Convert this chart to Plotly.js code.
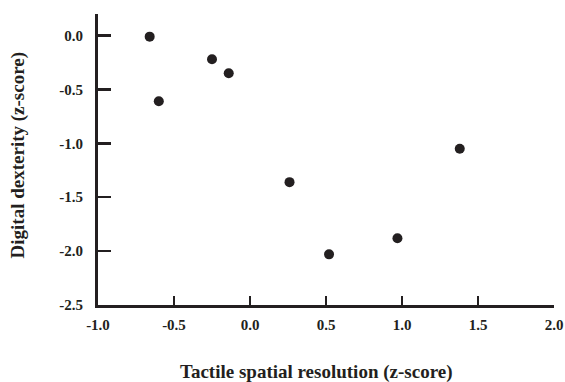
<!DOCTYPE html>
<html>
<head>
<meta charset="utf-8">
<script src="https://cdn.plot.ly/plotly-3.0.1.min.js"></script>
<style>html,body{margin:0;padding:0;background:#fff}#chart{width:565px;height:382px}</style>
</head>
<body>
<div id="chart"></div>
<script>
const tactile = [-0.66, -0.25, -0.14, -0.60, 0.26, 0.52, 0.97, 1.38];
const dexterity = [-0.01, -0.22, -0.35, -0.61, -1.36, -2.03, -1.88, -1.05];
const xTickVals = [-1.0, -0.5, 0.0, 0.5, 1.0, 1.5, 2.0];
const xTickText = ["-1.0", "-0.5", "0.0", "0.5", "1.0", "1.5", "2.0"];
const yTickVals = [0.0, -0.5, -1.0, -1.5, -2.0, -2.5];
const yTickText = ["0.0", "-0.5", "-1.0", "-1.5", "-2.0", "-2.5"];
const xTitle = "Tactile spatial resolution (z-score)";
const yTitle = "Digital dexterity (z-score)";

const font = {family: "Liberation Serif, Times New Roman, serif", color: "#231f20"};
const titleFont = {family: font.family, size: 19, color: font.color, weight: "bold"};

const trace = {
  x: tactile, y: dexterity, type: "scatter", mode: "markers",
  marker: {color: "#231f20", size: 10}, cliponaxis: false, hoverinfo: "skip"
};

const layout = {
  width: 565, height: 382,
  margin: {l: 98, r: 11, t: 14, b: 77},
  paper_bgcolor: "#fff", plot_bgcolor: "#fff",
  showlegend: false,
  font: {family: font.family, color: font.color, size: 15},
  xaxis: {
    range: [-1.0, 2.0], tickvals: xTickVals, ticktext: xTickText,
    showline: true, linewidth: 3, linecolor: "#231f20",
    ticks: "inside", ticklen: 9, tickwidth: 2.5, tickcolor: "#231f20",
    ticklabelstandoff: 4,
    showgrid: false, zeroline: false,
    tickfont: {family: font.family, size: 15, color: font.color, weight: "bold"}
  },
  yaxis: {
    range: [-2.5, 0.2], tickvals: yTickVals, ticktext: yTickText,
    showline: true, linewidth: 3, linecolor: "#231f20",
    ticks: "inside", ticklen: 13, tickwidth: 2.5, tickcolor: "#231f20",
    ticklabelstandoff: 9,
    showgrid: false, zeroline: false,
    tickfont: {family: font.family, size: 15, color: font.color, weight: "bold"}
  },
  annotations: [
    {text: xTitle, xref: "paper", yref: "paper", x: 0.478, y: -0.23,
     xanchor: "center", yanchor: "middle", showarrow: false, font: titleFont},
    {text: yTitle, xref: "paper", yref: "paper", x: -0.1754, y: 0.514,
     xanchor: "center", yanchor: "middle", textangle: -90, showarrow: false, font: titleFont}
  ]
};

Plotly.newPlot("chart", [trace], layout, {displayModeBar: false, staticPlot: true});
</script>
</body>
</html>
